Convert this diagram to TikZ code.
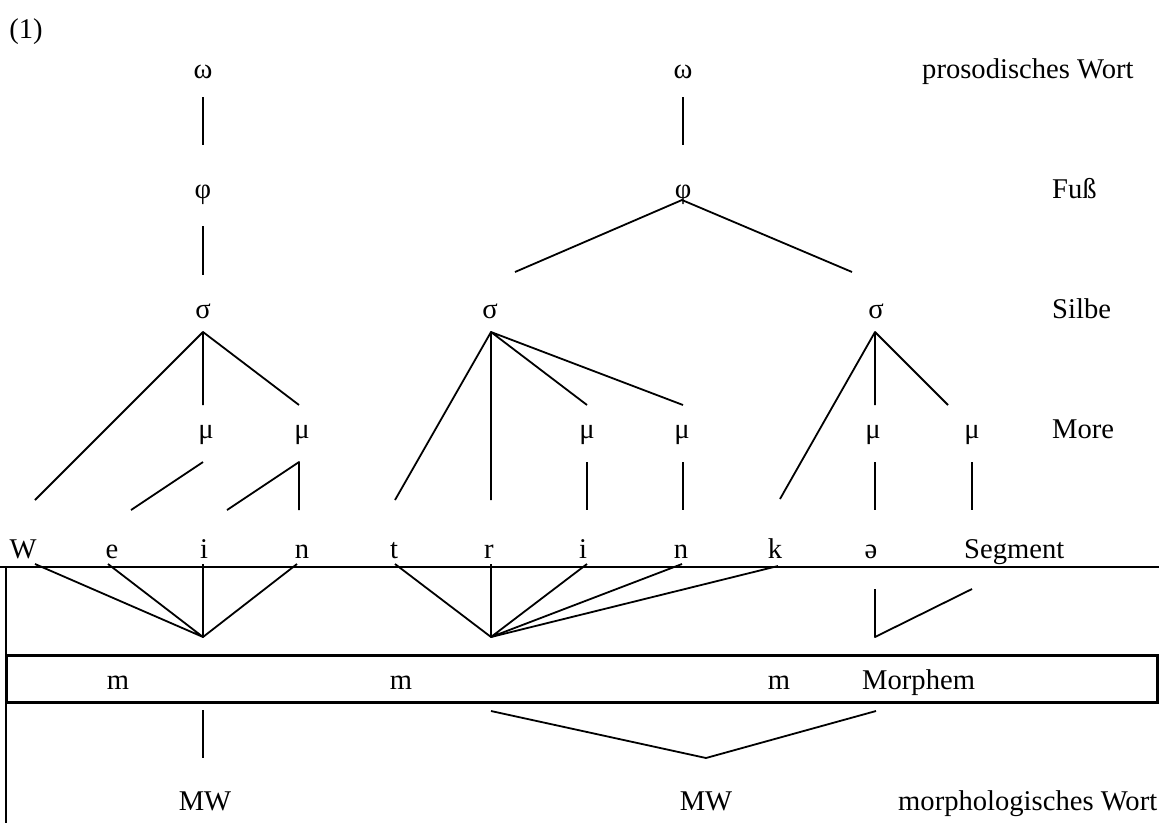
\documentclass[tikz,border=0pt]{standalone}
\usepackage{fontspec}
\setmainfont{Liberation Serif}
\tikzset{
	lbl/.style={anchor=base, inner sep=0pt, font=\fontsize{28.6}{34}\selectfont},
	tier/.style={lbl, anchor=base west},
	link/.style={line width=1.8pt, line join=round},
	frame/.style={line width=2pt},
	mbox/.style={line width=3pt}
}
\begin{document}
\begin{tikzpicture}[x=1pt,y=-1pt]
		\useasboundingbox (0,0) rectangle (1159,823);
		\node[lbl] (nr) at (26,38)		{(1)};
		% prosodisches Wort
		\node[lbl] (omA) at (203,78)		{ω};
		\node[lbl] (omB) at (683,78)		{ω};
		\node[tier] (tPW) at (922,78)		{prosodisches Wort};
		% Fuss
		\node[lbl] (phA) at (203,198)		{φ};
		\node[lbl] (phB) at (683,198)		{φ};
		\node[tier] (tFuss) at (1052,198)		{Fuß};
		% Silbe
		\node[lbl] (sgA) at (203,318)		{σ};
		\node[lbl] (sgB) at (490,318)		{σ};
		\node[lbl] (sgC) at (876,318)		{σ};
		\node[tier] (tSilbe) at (1052,318)		{Silbe};
		% More
		\node[lbl] (muA) at (206,438)		{μ};
		\node[lbl] (muB) at (302,438)		{μ};
		\node[lbl] (muC) at (587,438)		{μ};
		\node[lbl] (muD) at (682,438)		{μ};
		\node[lbl] (muE) at (873,438)		{μ};
		\node[lbl] (muF) at (972,438)		{μ};
		\node[tier] (tMore) at (1052,438)		{More};
		% Segment
		\node[lbl] (sW) at (23,558)		{W};
		\node[lbl] (sE) at (112,558)		{e};
		\node[lbl] (sIa) at (204,558)		{i};
		\node[lbl] (sNa) at (302,558)		{n};
		\node[lbl] (sT) at (394,558)		{t};
		\node[lbl] (sR) at (489,558)		{r};
		\node[lbl] (sIb) at (583,558)		{i};
		\node[lbl] (sNb) at (681,558)		{n};
		\node[lbl] (sK) at (775,558)		{k};
		\node[lbl] (sSchwa) at (871,558)		{ə};
		\node[tier] (tSegment) at (964,558)		{Segment};
		% Morphem
		\node[lbl] (mA) at (118,689)		{m};
		\node[lbl] (mB) at (401,689)		{m};
		\node[lbl] (mC) at (779,689)		{m};
		\node[tier] (tMorphem) at (862,689)		{Morphem};
		% morphologisches Wort
		\node[lbl] (mwA) at (205,810)		{MW};
		\node[lbl] (mwB) at (706,810)		{MW};
		\node[tier] (tMW) at (898,810)		{morphologisches Wort};
		
		% knots and free ends
		\coordinate (omA-d) at (203,97);	\coordinate (phA-u) at (203,145);
		\coordinate (omB-d) at (683,97);	\coordinate (phB-u) at (683,145);
		\coordinate (phA-d) at (203,226);	\coordinate (sgA-u) at (203,275);
		\coordinate (phB-d) at (682,200);
		\coordinate (sgB-u) at (515,272);	\coordinate (sgC-u) at (852,272);
		\coordinate (sgA-d) at (203,332);
		\coordinate (sgB-d) at (491,332);
		\coordinate (sgC-d) at (875,332);
		\coordinate (muA-u) at (203,405);	\coordinate (muB-u) at (299,405);
		\coordinate (muC-u) at (587,405);	\coordinate (muD-u) at (683,405);
		\coordinate (muE-u) at (875,405);	\coordinate (muF-u) at (948,405);
		\coordinate (sW-u) at (35,500);	\coordinate (sT-u) at (395,500);
		\coordinate (sR-u) at (491,500);	\coordinate (sK-u) at (780,499);
		\coordinate (muA-d) at (203,462);	\coordinate (muB-d) at (299,462);
		\coordinate (muC-d) at (587,462);	\coordinate (muD-d) at (683,462);
		\coordinate (muE-d) at (875,462);	\coordinate (muF-d) at (972,462);
		\coordinate (sE-u) at (131,510);	\coordinate (sIa-u) at (227,510);
		\coordinate (sNa-u) at (299,510);	\coordinate (sIb-u) at (587,510);
		\coordinate (sNb-u) at (683,510);	\coordinate (sSchwa-u) at (875,510);
		\coordinate (sLast-u) at (972,510);
		\coordinate (sW-d) at (35,564);	\coordinate (sE-d) at (108,564);
		\coordinate (sIa-d) at (203,564);	\coordinate (sNa-d) at (297,564);
		\coordinate (sT-d) at (395,564);	\coordinate (sR-d) at (491,564);
		\coordinate (sIb-d) at (587,564);	\coordinate (sNb-d) at (682,564);
		\coordinate (sK-d) at (778,566);
		\coordinate (sSchwa-d) at (875,589);	\coordinate (sLast-d) at (972,589);
		\coordinate (mA-u) at (203,637);
		\coordinate (mB-u) at (491,637);
		\coordinate (mC-u) at (875,637);
		\coordinate (mA-d) at (203,710);	\coordinate (mwA-u) at (203,758);
		\coordinate (mB-d) at (491,711);	\coordinate (mC-d) at (876,711);
		\coordinate (mwB-u) at (706,758);
		
		% frame
		\draw[frame] (0,567) -- (1159,567);
		\draw[frame] (6,566) -- (6,823);
		\draw[mbox] (6,655) rectangle (1157,702);
		
		% prosodic tree
		\draw[link] (omA-d) -- (phA-u);
		\draw[link] (omB-d) -- (phB-u);
		\draw[link] (phA-d) -- (sgA-u);
		\draw[link] (sgB-u) -- (phB-d) -- (sgC-u);
		\draw[link] (sW-u) -- (sgA-d) -- (muA-u);
		\draw[link] (sgA-d) -- (muB-u);
		\draw[link] (sT-u) -- (sgB-d) -- (sR-u);
		\draw[link] (muC-u) -- (sgB-d) -- (muD-u);
		\draw[link] (sK-u) -- (sgC-d) -- (muE-u);
		\draw[link] (sgC-d) -- (muF-u);
		\draw[link] (muA-d) -- (sE-u);
		\draw[link] (sIa-u) -- (muB-d) -- (sNa-u);
		\draw[link] (muC-d) -- (sIb-u);
		\draw[link] (muD-d) -- (sNb-u);
		\draw[link] (muE-d) -- (sSchwa-u);
		\draw[link] (muF-d) -- (sLast-u);
		
		% morphological tree
		\draw[link] (sW-d) -- (mA-u) -- (sE-d);
		\draw[link] (sIa-d) -- (mA-u) -- (sNa-d);
		\draw[link] (sT-d) -- (mB-u) -- (sR-d);
		\draw[link] (sIb-d) -- (mB-u) -- (sNb-d);
		\draw[link] (mB-u) -- (sK-d);
		\draw[link] (sSchwa-d) -- (mC-u) -- (sLast-d);
		\draw[link] (mA-d) -- (mwA-u);
		\draw[link] (mB-d) -- (mwB-u) -- (mC-d);
	\end{tikzpicture}
\end{document}
